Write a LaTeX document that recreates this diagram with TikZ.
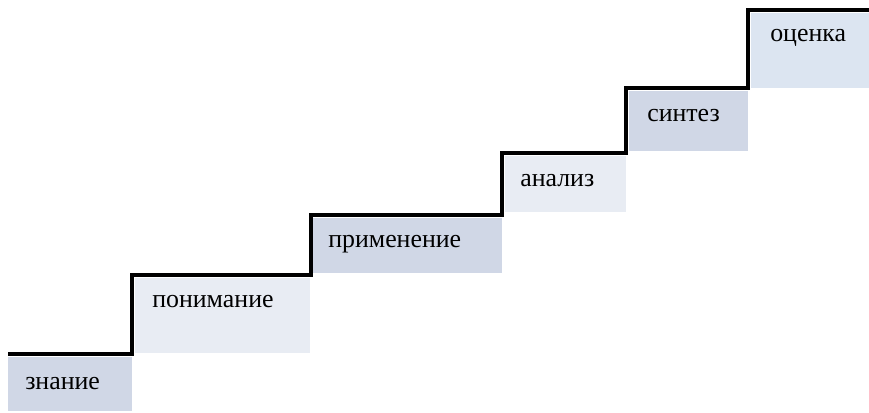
\documentclass[tikz,border=0pt]{standalone}
\usepackage{fontspec}
\setmainfont{Liberation Serif}
\definecolor{stepdark}{HTML}{D0D7E6}
\definecolor{steplight}{HTML}{E8ECF3}
\definecolor{steptop}{HTML}{DCE5F1}
\tikzset{
  steplabel/.style={anchor=base west, inner sep=0pt, font=\fontsize{19.4}{23}\selectfont},
  stair/.style={line width=2.3pt, line join=miter, black}
}
\begin{document}
\begin{tikzpicture}[x=0.75pt,y=-0.75pt]
\useasboundingbox (0,0) rectangle (869,413);
% fills
\fill[stepdark]  (8,357)   rectangle (132,411);
\fill[steplight] (135,278) rectangle (310,353);
\fill[stepdark]  (313,218) rectangle (502,273);
\fill[steplight] (505,156) rectangle (626,212);
\fill[stepdark]  (629,91)  rectangle (748,151);
\fill[steptop]   (751,13)  rectangle (869,88);
% staircase
\coordinate (s0) at (8,354);
\coordinate (s1) at (132,354);
\coordinate (s2) at (132,275);
\coordinate (s3) at (311,275);
\coordinate (s4) at (311,215);
\coordinate (s5) at (502,215);
\coordinate (s6) at (502,153);
\coordinate (s7) at (626,153);
\coordinate (s8) at (626,88);
\coordinate (s9) at (748,88);
\coordinate (s10) at (748,10);
\coordinate (s11) at (869,10);
\draw[stair] (s0) -- (s1) -- (s2) -- (s3) -- (s4) -- (s5) -- (s6) -- (s7) -- (s8) -- (s9) -- (s10) -- (s11);
% labels
\node[steplabel] (t1) at (25,390) {знание};
\node[steplabel] (t2) at (152,308) {понимание};
\node[steplabel] (t3) at (328,248) {применение};
\node[steplabel] (t4) at (520,187) {анализ};
\node[steplabel] (t5) at (647,122) {синтез};
\node[steplabel] (t6) at (770,42) {оценка};
\end{tikzpicture}
\end{document}
